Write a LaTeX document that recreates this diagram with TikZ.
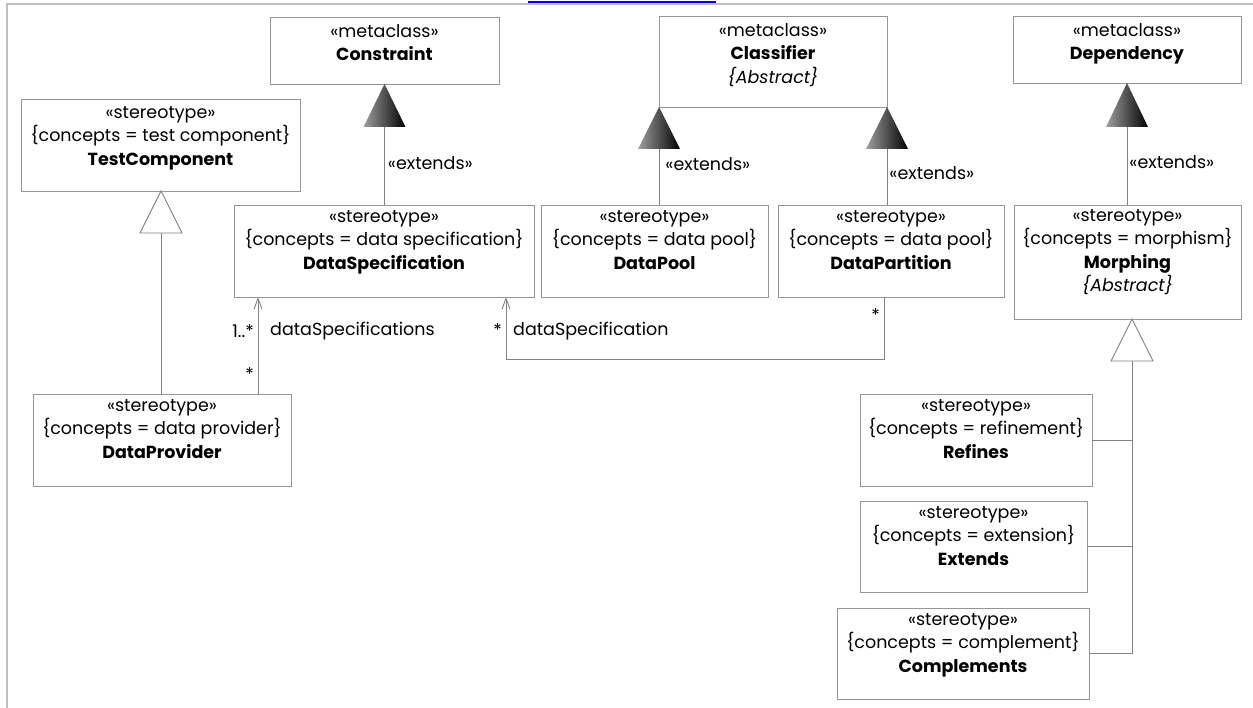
\documentclass[tikz,border=0pt]{standalone}
\usepackage{fontspec}
\setmainfont{Poppins}
\usetikzlibrary{arrows.meta,calc}
\definecolor{boxgray}{RGB}{150,150,150}
\definecolor{linegray}{RGB}{130,130,130}
\definecolor{framegray}{RGB}{192,192,192}
\definecolor{linkblue}{RGB}{0,0,238}
\begin{document}
\begin{tikzpicture}[x=1pt,y=-1pt,
  box/.style={draw=boxgray, line width=0.9pt, fill=white, inner sep=0pt, outer sep=0pt},
  txt/.style={align=center, inner sep=0pt, anchor=north, font=\fontsize{17.5}{23.5}\selectfont, text=black},
  lab/.style={inner sep=0pt, font=\fontsize{17.5}{19}\selectfont, text=black},
  conn/.style={draw=linegray, line width=0.9pt},
  assoc/.style={conn, -{Straight Barb[length=11pt,width=8pt]}},
  gen/.style={draw=linegray, line width=0.9pt, fill=white},
  extri/.style={draw=none, left color=gray!75, right color=black},
]
\useasboundingbox (0,0) rectangle (1253,708);
% frame
\draw[framegray, line width=1.5pt] (1253,4) -- (7,4) -- (7,708);
\draw[linkblue, line width=1.5pt] (528,2) -- (716,2);

% boxes
\node[box, minimum width=229, minimum height=67] (cons) at (384.5,50.5) {};
\node[txt] at ($(cons.north)+(0,7)$) {«metaclass»\\\textbf{Constraint}};

\node[box, minimum width=279, minimum height=92] (testc) at (160.5,145) {};
\node[txt] at ($(testc.north)+(0,7)$) {«stereotype»\\\{concepts = test component\}\\\textbf{TestComponent}};

\node[box, minimum width=300, minimum height=92] (dspec) at (384,251) {};
\node[txt] at ($(dspec.north)+(0,5)$) {«stereotype»\\\{concepts = data specification\}\\\textbf{DataSpecification}};

\node[box, minimum width=227, minimum height=92] (dpool) at (654.5,251) {};
\node[txt] at ($(dpool.north)+(0,5)$) {«stereotype»\\\{concepts = data pool\}\\\textbf{DataPool}};

\node[box, minimum width=226, minimum height=92] (dpart) at (891,251) {};
\node[txt] at ($(dpart.north)+(0,5)$) {«stereotype»\\\{concepts = data pool\}\\\textbf{DataPartition}};

\node[box, minimum width=228, minimum height=91] (clas) at (773,61.5) {};
\node[txt] at ($(clas.north)+(0,7)$) {«metaclass»\\\textbf{Classifier}\\\textit{\{Abstract\}}};

\node[box, minimum width=228, minimum height=67] (dep) at (1127,49.5) {};
\node[txt] at ($(dep.north)+(0,7)$) {«metaclass»\\\textbf{Dependency}};

\node[box, minimum width=227, minimum height=114] (morph) at (1127.5,262) {};
\node[txt] at ($(morph.north)+(0,4)$) {«stereotype»\\\{concepts = morphism\}\\\textbf{Morphing}\\\textit{\{Abstract\}}};

\node[box, minimum width=232, minimum height=92] (ref) at (976,440) {};
\node[txt] at ($(ref.north)+(0,5)$) {«stereotype»\\\{concepts = refinement\}\\\textbf{Refines}};

\node[box, minimum width=227, minimum height=91] (ext) at (973.5,546.5) {};
\node[txt] at ($(ext.north)+(0,5)$) {«stereotype»\\\{concepts = extension\}\\\textbf{Extends}};

\node[box, minimum width=252, minimum height=91] (comp) at (963,653.5) {};
\node[txt] at ($(comp.north)+(0,5)$) {«stereotype»\\\{concepts = complement\}\\\textbf{Complements}};

\node[box, minimum width=258, minimum height=92] (dprov) at (162,440) {};
\node[txt] at ($(dprov.north)+(0,5)$) {«stereotype»\\\{concepts = data provider\}\\\textbf{DataProvider}};

% extension triangles (filled)
\shade[extri] (cons.south) -- ++(21,43) -- ++(-42,0) -- cycle;
\coordinate (t1) at ($(cons.south)+(0,43)$);
\shade[extri] (clas.south west) -- ++(21,42) -- ++(-42,0) -- cycle;
\coordinate (t2) at ($(clas.south west)+(0,42)$);
\shade[extri] (clas.south east) -- ++(21,42) -- ++(-42,0) -- cycle;
\coordinate (t3) at ($(clas.south east)+(0,42)$);
\shade[extri] (dep.south) -- ++(21,44) -- ++(-42,0) -- cycle;
\coordinate (t4) at ($(dep.south)+(0,44)$);

\draw[conn] (t1) -- node[lab, anchor=west, pos=0.46, xshift=3pt] {«extends»} (dspec.north -| t1);
\draw[conn] (t2) -- node[lab, anchor=west, pos=0.27, xshift=6pt] {«extends»} (dpool.north -| t2);
\draw[conn] (t3) -- node[lab, anchor=west, pos=0.43, xshift=2pt] {«extends»} (dpart.north -| t3);
\draw[conn] (t4) -- node[lab, anchor=west, pos=0.45, xshift=2pt] {«extends»} (morph.north -| t4);

% generalisation triangles (hollow)
\coordinate (g1) at ($(testc.south)+(0.5,0)$);
\draw[gen] (g1) -- ++(21,42) -- ++(-42,0) -- cycle;
\coordinate (t5) at ($(g1)+(0,42)$);
\draw[conn] (t5) -- (dprov.north -| t5);

\coordinate (g2) at (1132,319);
\draw[gen] (morph.south -| g2) -- ++(21,42) -- ++(-42,0) -- cycle;
\coordinate (t6) at ($(morph.south -| g2)+(0,42)$);
\draw[conn] (t6) |- (comp.east);
\draw[conn] (ref.east) -- (ref.east -| t6);
\draw[conn] (ext.east) -- (ext.east -| t6);

% associations
\coordinate (a1) at (258,0);
\draw[assoc] (dprov.north -| a1) -- (dspec.south -| a1);
\node[lab, anchor=east] at (254,331) {1..*};
\node[lab, anchor=west] at (270,331) {dataSpecifications};
\node[lab, anchor=east] at (254,374) {*};

\coordinate (b1) at (884,359);
\coordinate (b2) at (506,359);
\draw[assoc] (dpart.south -| b1) -- (b1) -- (b2) -- (dspec.south -| b2);
\node[lab, anchor=east] at (880,315) {*};
\node[lab, anchor=east] at (502,330) {*};
\node[lab, anchor=west] at (513,331) {dataSpecification};
\end{tikzpicture}
\end{document}
